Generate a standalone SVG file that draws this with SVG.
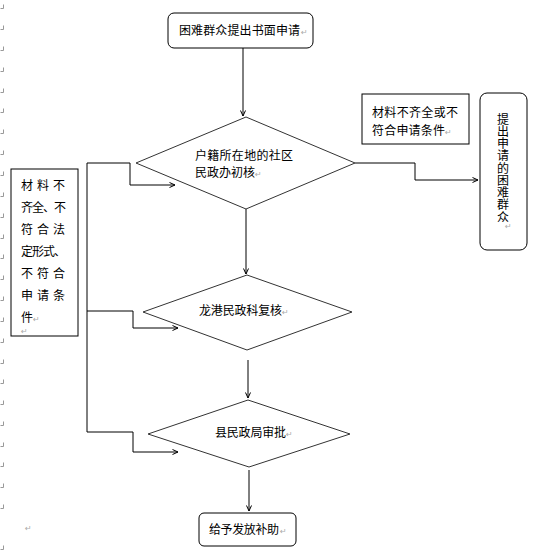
<svg xmlns="http://www.w3.org/2000/svg" xmlns:xlink="http://www.w3.org/1999/xlink" width="536" height="558" viewBox="0 0 536 558">
<defs>
<style>
.t{font-family:"Noto Sans CJK SC","Liberation Sans",sans-serif;font-size:12px;fill:#000}
.v{writing-mode:vertical-rl;text-orientation:upright}
.pm{font-family:"DejaVu Sans",sans-serif;font-size:8px;fill:#aaa}
.box{fill:#fff;stroke:#000;stroke-width:1}
.dia{fill:#fff;stroke:#333;stroke-width:1}
.ln{fill:none;stroke:#000;stroke-width:1}
.mk{fill:none;stroke:#999;stroke-width:1}
</style>
<marker id="ah" markerUnits="userSpaceOnUse" markerWidth="8" markerHeight="8" refX="6" refY="3" orient="auto">
<path d="M0.5,0.5 L6,3 L0.5,5.5" fill="none" stroke="#000" stroke-width="1"/>
</marker>
<path id="m" class="mk" d="M0.5,0.5 H3.5 V-3.5"/>
</defs>
<rect width="536" height="558" fill="#fff"/>
<g id="margin">
<use xlink:href="#m" x="0" y="8"/><use xlink:href="#m" x="0" y="29"/><use xlink:href="#m" x="0" y="50"/><use xlink:href="#m" x="0" y="71"/><use xlink:href="#m" x="0" y="92"/><use xlink:href="#m" x="0" y="112"/><use xlink:href="#m" x="0" y="133"/><use xlink:href="#m" x="0" y="154"/><use xlink:href="#m" x="0" y="175"/><use xlink:href="#m" x="0" y="196"/><use xlink:href="#m" x="0" y="217"/><use xlink:href="#m" x="0" y="238"/><use xlink:href="#m" x="0" y="258"/><use xlink:href="#m" x="0" y="279"/><use xlink:href="#m" x="0" y="300"/><use xlink:href="#m" x="0" y="321"/><use xlink:href="#m" x="0" y="342"/><use xlink:href="#m" x="0" y="363"/><use xlink:href="#m" x="0" y="383"/><use xlink:href="#m" x="0" y="404"/><use xlink:href="#m" x="0" y="425"/><use xlink:href="#m" x="0" y="446"/><use xlink:href="#m" x="0" y="466"/><use xlink:href="#m" x="0" y="487"/><use xlink:href="#m" x="0" y="508"/><use xlink:href="#m" x="0" y="549"/>
<text class="pm" x="25" y="531">↵</text>
</g>
<g id="connectors">
<line class="ln" x1="243" y1="48" x2="243" y2="116" marker-end="url(#ah)"/>
<line class="ln" x1="246" y1="209" x2="246" y2="274" marker-end="url(#ah)"/>
<line class="ln" x1="248" y1="360" x2="248" y2="398" marker-end="url(#ah)"/>
<line class="ln" x1="249" y1="470" x2="249" y2="511" marker-end="url(#ah)"/>
<polyline class="ln" points="355,163 415,163 415,180 478,180" marker-end="url(#ah)"/>
<line class="ln" x1="87" y1="163" x2="87" y2="432"/>
<polyline class="ln" points="87,163 130,163 130,185 175,185" marker-end="url(#ah)"/>
<polyline class="ln" points="87,311 133,311 133,328 178,328" marker-end="url(#ah)"/>
<polyline class="ln" points="87,432 133,432 133,452 178,452" marker-end="url(#ah)"/>
</g>
<g id="n-start">
<rect class="box" x="168" y="13" width="145" height="35" rx="6"/>
<text class="t" x="179" y="35" textLength="121" lengthAdjust="spacing">困难群众提出书面申请</text>
<text class="pm" x="301" y="35">↵</text>
</g>
<g id="n-d1">
<polygon class="dia" points="246,117 355,163 246,209 136,163"/>
<text class="t" x="195" y="160" textLength="98" lengthAdjust="spacing">户籍所在地的社区</text>
<text class="t" x="195" y="177" textLength="60" lengthAdjust="spacing">民政办初核</text>
<text class="pm" x="255" y="177">↵</text>
</g>
<g id="n-d2">
<polygon class="dia" points="247,275 352,312 247,350 143,312"/>
<text class="t" x="199" y="315" textLength="83" lengthAdjust="spacing">龙港民政科复核</text>
<text class="pm" x="282" y="315">↵</text>
</g>
<g id="n-d3">
<polygon class="dia" points="248,400 350,434 249,467 148,434"/>
<text class="t" x="215" y="437" textLength="71" lengthAdjust="spacing">县民政局审批</text>
<text class="pm" x="286" y="437">↵</text>
</g>
<g id="n-end">
<rect class="box" x="199" y="513" width="97" height="33" rx="5"/>
<text class="t" x="209" y="534" textLength="70" lengthAdjust="spacing">给予发放补助</text>
<text class="pm" x="280" y="534">↵</text>
</g>
<g id="n-note-right">
<rect class="box" x="362" y="94" width="107" height="50"/>
<text class="t" x="372" y="117" textLength="86" lengthAdjust="spacing">材料不齐全或不</text>
<text class="t" x="372" y="135" textLength="73" lengthAdjust="spacing">符合申请条件</text>
<text class="pm" x="445" y="135">↵</text>
</g>
<g id="n-applicant">
<rect class="box" x="480" y="93" width="47" height="157" rx="7"/>
<text class="t v" x="503" y="113" textLength="110" lengthAdjust="spacing">提出申请的困难群众</text>
<text class="pm" x="505" y="229">↵</text>
</g>
<g id="n-note-left">
<rect class="box" x="11" y="169" width="67" height="167"/>
<text class="t" x="21" y="190" textLength="44" lengthAdjust="spacing">材料不</text>
<text class="t" x="21" y="212" textLength="45" lengthAdjust="spacing">齐全、不</text>
<text class="t" x="21" y="234" textLength="44" lengthAdjust="spacing">符合法</text>
<text class="t" x="21" y="256" textLength="45" lengthAdjust="spacing">定形式、</text>
<text class="t" x="21" y="278" textLength="44" lengthAdjust="spacing">不符合</text>
<text class="t" x="21" y="300" textLength="44" lengthAdjust="spacing">申请条</text>
<text class="t" x="21" y="322">件</text>
<text class="pm" x="33" y="322">↵</text>
<text class="pm" x="21" y="334">↵</text>
</g>
</svg>
